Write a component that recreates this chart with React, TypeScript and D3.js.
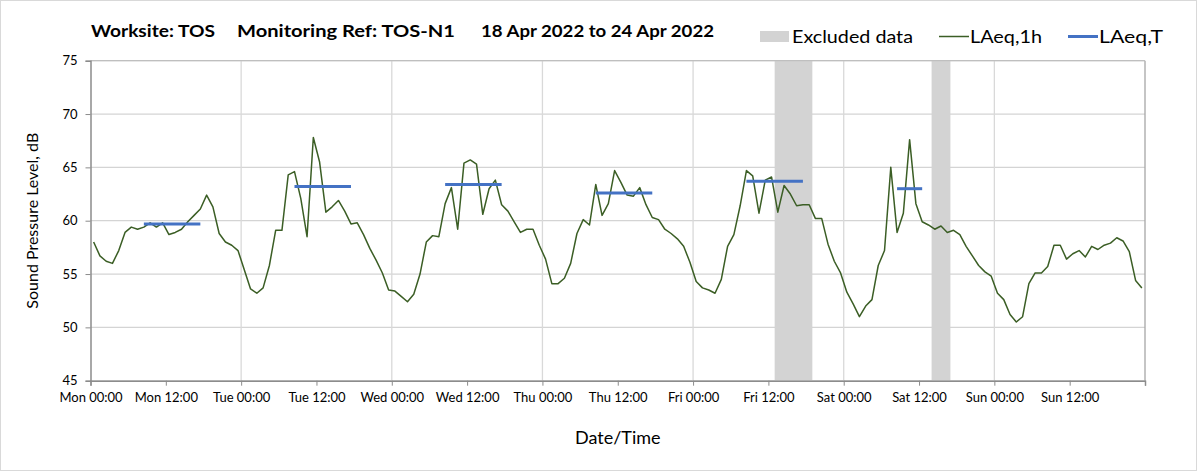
import React, { useEffect, useRef } from 'react';
import * as d3 from 'd3';

// hourly LAeq,1h values, Mon 00:00 .. Sun 23:00 (one per hour)
const laeq1h = [
  58.0, 56.7, 56.2, 56.0, 57.2, 58.9, 59.4, 59.2, 59.4, 59.8, 59.4, 59.8,
  58.7, 58.9, 59.2, 59.9, 60.5, 61.1, 62.4, 61.3, 58.8, 58.0, 57.7, 57.2,
  55.4, 53.6, 53.2, 53.7, 55.8, 59.1, 59.1, 64.3, 64.6, 62.1, 58.5, 67.8,
  65.5, 60.8, 61.3, 61.9, 60.9, 59.7, 59.8, 58.7, 57.4, 56.3, 55.1, 53.5,
  53.4, 52.9, 52.4, 53.1, 55.0, 58.0, 58.6, 58.5, 61.6, 63.1, 59.2, 65.4,
  65.7, 65.3, 60.6, 63.0, 63.8, 61.5, 60.9, 59.9, 58.9, 59.2, 59.2, 57.7,
  56.4, 54.1, 54.1, 54.6, 56.0, 58.8, 60.1, 59.6, 63.4, 60.5, 61.6, 64.7,
  63.6, 62.4, 62.3, 63.1, 61.5, 60.3, 60.1, 59.2, 58.8, 58.3, 57.6, 56.1,
  54.3, 53.7, 53.5, 53.2, 54.5, 57.6, 58.7, 61.4, 64.7, 64.2, 60.7, 63.8,
  64.1, 60.8, 63.3, 62.5, 61.4, 61.5, 61.5, 60.2, 60.2, 57.8, 56.2, 55.1,
  53.3, 52.2, 51.0, 52.0, 52.6, 55.8, 57.2, 65.0, 58.9, 60.7, 67.6, 61.6,
  59.9, 59.6, 59.2, 59.5, 58.9, 59.1, 58.7, 57.6, 56.7, 55.8, 55.2, 54.8,
  53.2, 52.6, 51.2, 50.5, 51.0, 54.1, 55.1, 55.1, 55.7, 57.7, 57.7, 56.4,
  56.9, 57.2, 56.6, 57.6, 57.3, 57.7, 57.9, 58.4, 58.1, 57.1, 54.4, 53.7,
];

// LAeq,T daytime periods (hour index of first / last point)
const laeqTStart = [8, 32, 56, 80, 104, 128];
const laeqTEnd = [17, 41, 65, 89, 113, 132];
const laeqTValues = [59.7, 63.2, 63.4, 62.6, 63.7, 63.0];

// excluded periods, hours from Mon 00:00
const excludedStart = [109, 134];
const excludedEnd = [115, 137];

const xTickLabels = [
  'Mon 00:00', 'Mon 12:00', 'Tue 00:00', 'Tue 12:00', 'Wed 00:00', 'Wed 12:00',
  'Thu 00:00', 'Thu 12:00', 'Fri 00:00', 'Fri 12:00', 'Sat 00:00', 'Sat 12:00',
  'Sun 00:00', 'Sun 12:00',
];
const yTicks = [45, 50, 55, 60, 65, 70, 75];

const FONT = 'Lato, "Noto Sans", sans-serif';

const App: React.FC = () => {
  const svgRef = useRef<SVGSVGElement>(null);

  useEffect(() => {
    if (!svgRef.current) return;
    const svg = d3.select(svgRef.current);
    svg.selectAll('*').remove();

    const width = 1203;
    const height = 473;
    const margin = { top: 60.7, right: 58, bottom: 92.3, left: 90.5 };

    const x = d3.scaleLinear().domain([0, 168]).range([margin.left, width - margin.right]);
    const y = d3.scaleLinear().domain([45, 75]).range([height - margin.bottom, margin.top]);

    // outer frame
    svg.append('rect')
      .attr('x', 0.5).attr('y', 0.5)
      .attr('width', 1196).attr('height', 470)
      .attr('fill', '#fff').attr('stroke', '#d9d9d9');

    // horizontal gridlines
    svg.append('g')
      .selectAll('line')
      .data(yTicks)
      .enter()
      .append('line')
      .attr('x1', x(0)).attr('x2', x(168))
      .attr('y1', (d) => y(d)).attr('y2', (d) => y(d))
      .attr('stroke', '#d4d4d4').attr('stroke-width', 1.3);

    // vertical day gridlines
    svg.append('g')
      .selectAll('line')
      .data(d3.range(24, 168, 24))
      .enter()
      .append('line')
      .attr('x1', (d) => x(d)).attr('x2', (d) => x(d))
      .attr('y1', y(45)).attr('y2', y(75))
      .attr('stroke', '#d9d9d9').attr('stroke-width', 1.3);

    // excluded bands
    svg.append('g')
      .selectAll('rect')
      .data(excludedStart.map((s, i) => ({ s, e: excludedEnd[i] })))
      .enter()
      .append('rect')
      .attr('x', (d) => x(d.s))
      .attr('width', (d) => x(d.e) - x(d.s))
      .attr('y', y(75))
      .attr('height', y(45) - y(75))
      .attr('fill', '#d3d3d3');

    // plot border right/top
    svg.append('line')
      .attr('x1', x(168)).attr('x2', x(168)).attr('y1', y(45)).attr('y2', y(75))
      .attr('stroke', '#a6a6a6').attr('stroke-width', 1.3);
    svg.append('line')
      .attr('x1', x(0)).attr('x2', x(168)).attr('y1', y(75)).attr('y2', y(75))
      .attr('stroke', '#bfbfbf').attr('stroke-width', 1.3);

    // axes
    const xAxis = svg.append('g')
      .attr('transform', `translate(0,${y(45)})`)
      .call(
        d3.axisBottom(x)
          .tickValues(d3.range(0, 169, 12))
          .tickSize(5)
          .tickFormat((d) => xTickLabels[(d as number) / 12] ?? '')
      );
    xAxis.select('.domain').attr('stroke', '#8c8c8c').attr('stroke-width', 1.5);
    xAxis.selectAll('.tick line').attr('stroke', '#8c8c8c');
    xAxis.selectAll('.tick text')
      .attr('dy', '0.71em')
      .attr('y', 12)
      .attr('font-family', FONT)
      .attr('font-size', 13)
      .attr('fill', '#000');

    const yAxis = svg.append('g')
      .attr('transform', `translate(${x(0)},0)`)
      .call(d3.axisLeft(y).tickValues(yTicks).tickSize(5).tickFormat(d3.format('d')));
    yAxis.select('.domain').attr('stroke', '#8c8c8c').attr('stroke-width', 1.5);
    yAxis.selectAll('.tick line').attr('stroke', '#8c8c8c');
    yAxis.selectAll('.tick text')
      .attr('x', -13)
      .attr('font-family', FONT)
      .attr('font-size', 13)
      .attr('fill', '#000');

    // LAeq,1h line
    const line = d3.line<number>()
      .x((_, i) => x(i + 0.5))
      .y((d) => y(d));
    svg.append('path')
      .datum(laeq1h)
      .attr('d', line)
      .attr('fill', 'none')
      .attr('stroke', '#3b5e25')
      .attr('stroke-width', 1.5)
      .attr('stroke-linejoin', 'round');

    // LAeq,T segments
    svg.append('g')
      .selectAll('line')
      .data(laeqTValues.map((v, i) => ({ v, s: laeqTStart[i], e: laeqTEnd[i] })))
      .enter()
      .append('line')
      .attr('x1', (d) => x(d.s + 0.5))
      .attr('x2', (d) => x(d.e + 0.5))
      .attr('y1', (d) => y(d.v))
      .attr('y2', (d) => y(d.v))
      .attr('stroke', '#4472c4')
      .attr('stroke-width', 3);

    // title
    const title = svg.append('g')
      .attr('font-family', FONT)
      .attr('font-weight', 'bold')
      .attr('font-size', 17)
      .attr('fill', '#000');
    title.append('text').attr('x', 91).attr('y', 37)
      .attr('textLength', 124).attr('lengthAdjust', 'spacingAndGlyphs').text('Worksite: TOS');
    title.append('text').attr('x', 237).attr('y', 37)
      .attr('textLength', 218).attr('lengthAdjust', 'spacingAndGlyphs').text('Monitoring Ref: TOS-N1');
    title.append('text').attr('x', 481).attr('y', 37)
      .attr('textLength', 233).attr('lengthAdjust', 'spacingAndGlyphs').text('18 Apr 2022 to 24 Apr 2022');

    // legend
    const legend = svg.append('g').attr('font-family', FONT).attr('font-size', 18).attr('fill', '#000');
    legend.append('rect').attr('x', 760).attr('y', 31).attr('width', 29).attr('height', 11).attr('fill', '#d3d3d3');
    legend.append('text').attr('x', 792).attr('y', 42.5)
      .attr('textLength', 121).attr('lengthAdjust', 'spacingAndGlyphs').text('Excluded data');
    legend.append('line').attr('x1', 939).attr('x2', 969).attr('y1', 36.5).attr('y2', 36.5)
      .attr('stroke', '#3b5e25').attr('stroke-width', 1.5);
    legend.append('text').attr('x', 970).attr('y', 42.5)
      .attr('textLength', 72).attr('lengthAdjust', 'spacingAndGlyphs').text('LAeq,1h');
    legend.append('line').attr('x1', 1068).attr('x2', 1098).attr('y1', 36.5).attr('y2', 36.5)
      .attr('stroke', '#4472c4').attr('stroke-width', 3);
    legend.append('text').attr('x', 1099).attr('y', 42.5)
      .attr('textLength', 64).attr('lengthAdjust', 'spacingAndGlyphs').text('LAeq,T');

    // axis titles
    svg.append('text')
      .attr('x', (x(0) + x(168)) / 2)
      .attr('y', 444)
      .attr('text-anchor', 'middle')
      .attr('font-family', FONT)
      .attr('font-size', 18)
      .text('Date/Time');
    svg.append('text')
      .attr('transform', `translate(38,${(y(45) + y(75)) / 2}) rotate(-90)`)
      .attr('text-anchor', 'middle')
      .attr('font-family', FONT)
      .attr('font-size', 16)
      .text('Sound Pressure Level, dB');
  }, []);

  return (
    <svg
      ref={svgRef}
      width={1203}
      height={473}
      style={{ position: 'absolute', left: 0, top: 0, background: '#fff' }}
    />
  );
};

export default App;
